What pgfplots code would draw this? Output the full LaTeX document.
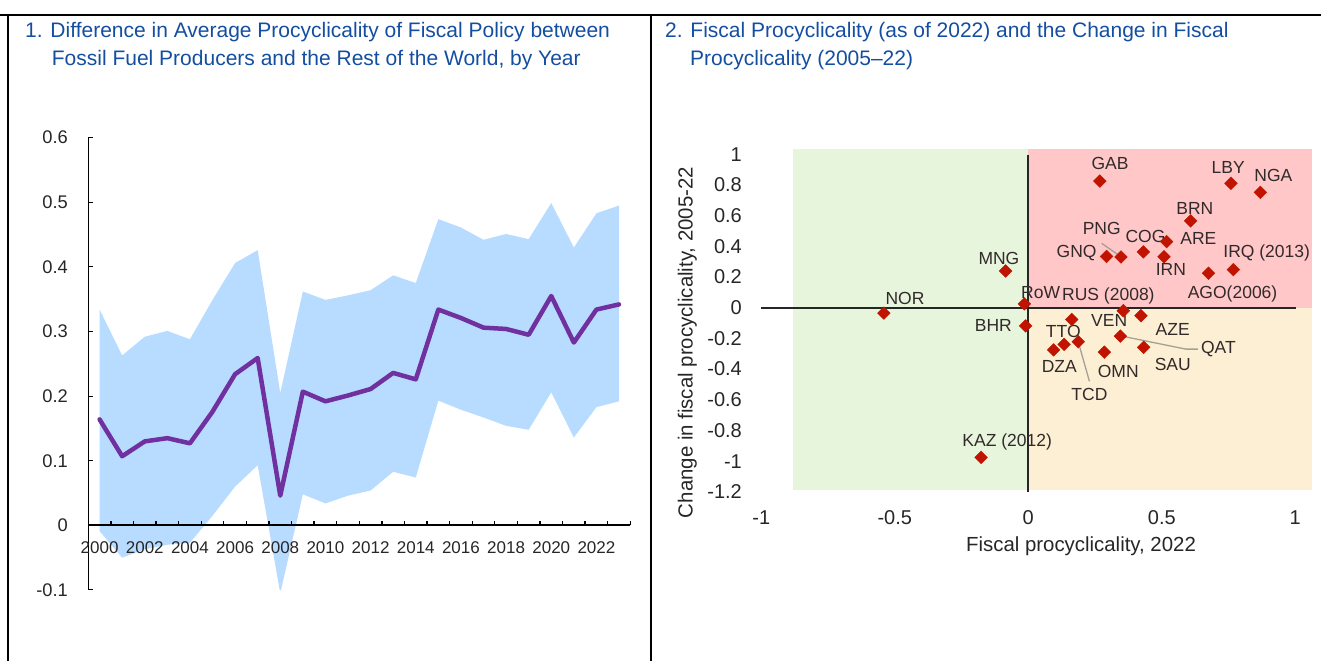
\documentclass[border=0pt]{standalone}
\usepackage{fontspec}
\setmainfont{Liberation Sans}
\usepackage{pgfplots}
\pgfplotsset{compat=1.18}
\usepackage{pgfplotstable}

\definecolor{titleblue}{RGB}{20,78,160}
\definecolor{tickgray}{RGB}{38,38,38}
\definecolor{bandblue}{RGB}{184,220,255}
\definecolor{linepurple}{RGB}{112,48,160}
\definecolor{bggreen}{RGB}{231,245,220}
\definecolor{bgpink}{RGB}{255,199,199}
\definecolor{bgbeige}{RGB}{253,239,212}
\definecolor{mkred}{RGB}{192,20,0}
\definecolor{lblgray}{RGB}{50,42,42}
\definecolor{leader}{RGB}{165,160,150}

% average difference (line)
\pgfplotstableread{
year line
2000 0.164
2001 0.107
2002 0.130
2003 0.135
2004 0.127
2005 0.176
2006 0.234
2007 0.259
2008 0.046
2009 0.207
2010 0.192
2011 0.201
2012 0.211
2013 0.236
2014 0.226
2015 0.334
2016 0.321
2017 0.306
2018 0.304
2019 0.295
2020 0.355
2021 0.283
2022 0.334
2023 0.342
}\leftline

% confidence band: upper bound 2000-2023, then lower bound 2023-2000
\pgfplotstableread{
year v
2000 0.334
2001 0.263
2002 0.292
2003 0.301
2004 0.288
2005 0.349
2006 0.406
2007 0.426
2008 0.205
2009 0.362
2010 0.349
2011 0.356
2012 0.364
2013 0.387
2014 0.375
2015 0.474
2016 0.461
2017 0.442
2018 0.451
2019 0.443
2020 0.499
2021 0.430
2022 0.483
2023 0.495
2023 0.192
2022 0.183
2021 0.136
2020 0.206
2019 0.148
2018 0.154
2017 0.167
2016 0.179
2015 0.193
2014 0.074
2013 0.083
2012 0.054
2011 0.046
2010 0.034
2009 0.048
2008 -0.105
2007 0.093
2006 0.060
2005 0.015
2004 -0.027
2003 -0.030
2002 -0.037
2001 -0.050
2000 -0.009
}\leftband

\pgfplotstableread{
x y name
0.268 0.825 GAB
0.759 0.810 LBY
0.869 0.751 NGA
0.608 0.565 BRN
0.518 0.430 ARE
0.431 0.363 COG
0.347 0.330 PNG
0.293 0.334 GNQ
0.508 0.332 IRN
0.675 0.224 AGO
0.768 0.248 IRQ
-0.085 0.239 MNG
-0.541 -0.035 NOR
-0.015 0.025 RoW
-0.010 -0.119 BHR
-0.177 -0.975 KAZ
0.163 -0.077 VEN
0.356 -0.020 RUS
0.422 -0.052 AZE
0.345 -0.185 QAT
0.095 -0.275 DZA
0.134 -0.239 TTO
0.187 -0.222 TCD
0.285 -0.290 OMN
0.432 -0.258 SAU
}\scatterdata

\begin{document}
\begin{tikzpicture}
\useasboundingbox (0pt,0pt) rectangle (1321pt,661pt);
% frame
\draw[line width=2.2pt] (0pt,646pt) -- (1321pt,646pt);
\draw[line width=2pt] (7.5pt,647pt) -- (7.5pt,0pt);
\draw[line width=2pt] (651pt,647pt) -- (651pt,0pt);

% titles
\begin{scope}[every node/.style={anchor=base west, inner sep=0pt, text=titleblue, font=\fontsize{21}{25}\selectfont}]
\node at (25pt,623.7pt) {1. Difference in Average Procyclicality of Fiscal Policy between};
\node at (51.7pt,595.3pt) {Fossil Fuel Producers and the Rest of the World, by Year};
\node at (665pt,623.7pt) {2. Fiscal Procyclicality (as of 2022) and the Change in Fiscal};
\node at (690pt,595.3pt) {Procyclicality (2005–22)};
\end{scope}

% left chart
\begin{axis}[
  at={(88.3pt,71pt)}, anchor=south west,
  scale only axis, width=542pt, height=452.3pt,
  xmin=1999.5, xmax=2023.5, ymin=-0.1, ymax=0.6,
  axis x line=middle, axis y line=left,
  axis line style={-}, axis on top,
  x axis line style={line width=2pt, black},
  y axis line style={line width=1.1pt, black},
  hide obscured x ticks=false, hide obscured y ticks=false,
  xtick={2000,2002,...,2022},
  xticklabels={2000,2002,2004,2006,2008,2010,2012,2014,2016,2018,2020,2022},
  major x tick style={draw=none},
  minor xtick={1999.5,2000.5,...,2023.5},
  minor x tick style={line width=1.3pt, black, yshift=2.25pt},
  minor tick length=4.5pt,
  ytick={-0.1,0,0.1,0.2,0.3,0.4,0.5,0.6},
  yticklabels={-0.1,0,0.1,0.2,0.3,0.4,0.5,0.6},
  major y tick style={line width=1pt, black, xshift=2.25pt},
  major tick length=4.5pt,
  tick align=center,
  ticklabel style={text=tickgray, inner sep=0pt},
  xticklabel style={font=\fontsize{17}{20}\selectfont, anchor=base, yshift=-25.7pt},
  yticklabel style={font=\fontsize{18.3}{22}\selectfont, anchor=east, xshift=-18pt},
]
\addplot[fill=bandblue, draw=none] table[x=year,y=v]{\leftband} -- cycle;
\addplot[linepurple, line width=4.5pt, line join=round, line cap=round] table[x=year,y=line]{\leftline};
\end{axis}

% right chart
\begin{axis}[
  at={(761.3pt,169.1pt)}, anchor=south west,
  scale only axis, width=550pt, height=345.4pt,
  xmin=-1, xmax=1.06, ymin=-1.2, ymax=1.05,
  clip=false,
  axis line style={draw=none},
  major tick length=0pt,
  xtick={-1,-0.5,0,0.5,1},
  xticklabels={-1,-0.5,0,0.5,1},
  ytick={-1.2,-1,-0.8,-0.6,-0.4,-0.2,0,0.2,0.4,0.6,0.8,1},
  yticklabels={-1.2,-1,-0.8,-0.6,-0.4,-0.2,0,0.2,0.4,0.6,0.8,1},
  ticklabel style={font=\fontsize{20}{24}\selectfont, text=tickgray, inner sep=0pt},
  xticklabel style={anchor=base, yshift=-32.4pt},
  yticklabel style={anchor=east, xshift=-19.3pt},
]
\addplot[fill=bggreen, draw=none] coordinates {(-0.88,-1.185) (0,-1.185) (0,1.034) (-0.88,1.034)} -- cycle;
\addplot[fill=bgpink, draw=none] coordinates {(0,0) (1.064,0) (1.064,1.034) (0,1.034)} -- cycle;
\addplot[fill=bgbeige, draw=none] coordinates {(0,-1.185) (1.064,-1.185) (1.064,0) (0,0)} -- cycle;
\draw[line width=1.8pt, black!85] (axis cs:-1,0) -- (axis cs:1.002,0);
\draw[line width=1.8pt, black!85] (axis cs:0,0.995) -- (axis cs:0,-1.2);
% leader lines
\draw[leader, line width=1.3pt] (axis cs:0.275,0.419) -- (axis cs:0.343,0.337);
\draw[leader, line width=1.3pt] (axis cs:0.35,-0.185) -- (axis cs:0.59,-0.27) -- (axis cs:0.635,-0.27);
\draw[leader, line width=1.3pt] (axis cs:0.187,-0.222) -- (axis cs:0.229,-0.48);
\addplot[only marks, mark=square*, mark size=4.5pt, mark options={rotate=45, fill=mkred, draw=mkred}] table[x=x,y=y]{\scatterdata};
% data labels
\begin{scope}[every node/.style={inner sep=0pt, text=lblgray, font=\fontsize{17.5}{21}\selectfont}]
\node at (axis cs:0.306,0.940) {GAB};
\node at (axis cs:0.749,0.914) {LBY};
\node at (axis cs:0.918,0.864) {NGA};
\node at (axis cs:0.624,0.643) {BRN};
\node at (axis cs:0.439,0.463) {COG};
\node at (axis cs:0.637,0.452) {ARE};
\node at (axis cs:0.275,0.515) {PNG};
\node at (axis cs:0.181,0.358) {GNQ};
\node at (axis cs:0.534,0.250) {IRN};
\node at (axis cs:0.893,0.358) {IRQ (2013)};
\node at (axis cs:0.765,0.089) {AGO(2006)};
\node at (axis cs:0.046,0.100) {RoW};
\node at (axis cs:0.300,0.078) {RUS (2008)};
\node at (axis cs:0.303,-0.085) {VEN};
\node at (axis cs:0.541,-0.145) {AZE};
\node at (axis cs:0.712,-0.269) {QAT};
\node at (axis cs:0.131,-0.156) {TTO};
\node at (axis cs:0.116,-0.384) {DZA};
\node at (axis cs:0.337,-0.417) {OMN};
\node at (axis cs:0.541,-0.373) {SAU};
\node at (axis cs:-0.110,0.321) {MNG};
\node at (axis cs:-0.462,0.061) {NOR};
\node at (axis cs:-0.131,-0.113) {BHR};
\node at (axis cs:0.229,-0.566) {TCD};
\node at (axis cs:-0.079,-0.875) {KAZ (2012)};
\end{scope}
\end{axis}

% right axis titles
\node[rotate=90, anchor=base, inner sep=0pt, text=tickgray, font=\fontsize{20.4}{24}\selectfont] at (692.5pt,318.5pt) {Change in fiscal procyclicality, 2005-22};
\node[anchor=base, inner sep=0pt, text=tickgray, font=\fontsize{20.4}{24}\selectfont] at (1081pt,110pt) {Fiscal procyclicality, 2022};
\end{tikzpicture}
\end{document}
